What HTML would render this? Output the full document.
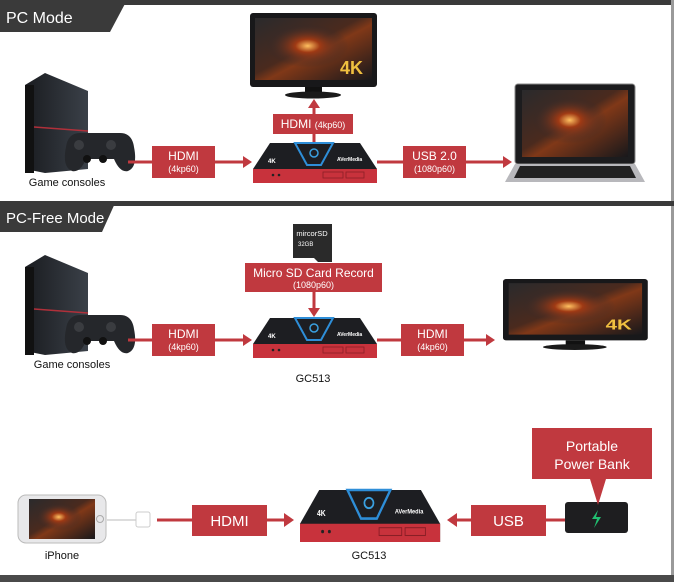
<!DOCTYPE html>
<html><head><meta charset="utf-8"><style>
html,body{margin:0;padding:0;background:#fff;}
svg{display:block;}
text{font-family:"Liberation Sans Narrow","Liberation Sans",sans-serif;}
</style></head><body>
<svg width="674" height="582" viewBox="0 0 674 582" xmlns="http://www.w3.org/2000/svg">
<defs>
<linearGradient id="scr" x1="0" y1="0" x2="1" y2="1">
<stop offset="0" stop-color="#2a2a2c"/><stop offset="0.45" stop-color="#4a2a1e"/><stop offset="0.55" stop-color="#803818"/><stop offset="1" stop-color="#18181b"/></linearGradient>
<radialGradient id="fire" cx="0.45" cy="0.45" r="0.35"><stop offset="0" stop-color="#ffc060"/><stop offset="0.3" stop-color="#a03a14"/><stop offset="1" stop-color="#2a2a2e" stop-opacity="0"/></radialGradient>
<linearGradient id="ps" x1="0" y1="0" x2="1" y2="0"><stop offset="0" stop-color="#1a1c20"/><stop offset="1" stop-color="#3a4048"/></linearGradient>
<g id="card">
<polygon points="17,0 107,0 124,26 124,40 0,40 0,26" fill="#1d1e22"/>
<polygon points="0,26 124,26 124,40 0,40" fill="#c8323c"/>
<polygon points="42,0 80,0 68,22 54,22" fill="none" stroke="#2e8ed8" stroke-width="2"/>
<circle cx="61" cy="10" r="4" fill="none" stroke="#3aa0e0" stroke-width="1.5"/>
<text x="15" y="20" font-size="6" fill="#fff" font-weight="bold">4K</text>
<text x="84" y="18" font-size="5" fill="#fff" font-weight="bold">AVerMedia</text>
<circle cx="20" cy="32" r="1.3" fill="#222"/><circle cx="26" cy="32" r="1.3" fill="#222"/>
<rect x="70" y="29" width="20" height="6" fill="none" stroke="#8a1e26" stroke-width="0.8"/>
<rect x="93" y="29" width="18" height="6" fill="none" stroke="#8a1e26" stroke-width="0.8"/>
</g>
<g id="ps4">
<polygon points="0,12 20,0 63,18 63,96 20,100 0,96" fill="url(#ps)"/>
<rect x="0" y="12" width="9" height="88" fill="#111"/>
<line x1="9" y1="54" x2="63" y2="58" stroke="#b0303a" stroke-width="1.5"/>
<path d="M45,60 h50 q12,0 14,14 q4,20 -6,24 q-8,2 -14,-12 h-28 q-6,14 -14,12 q-10,-4 -6,-24 q2,-14 14,-14z" fill="#25272b"/>
<circle cx="54" cy="72" r="5" fill="#3a3c40"/><circle cx="86" cy="72" r="5" fill="#3a3c40"/>
<circle cx="62" cy="86" r="4" fill="#111"/><circle cx="78" cy="86" r="4" fill="#111"/>
</g>
<g id="mon">
<rect x="0" y="0" width="127" height="74" rx="3" fill="#18181a"/>
<rect x="5" y="5" width="117" height="62" fill="url(#scr)"/>
<rect x="5" y="5" width="117" height="62" fill="url(#fire)"/>
<text x="90" y="61" font-size="18" font-weight="bold" fill="#f0c040">4K</text>
<rect x="55" y="74" width="17" height="6" fill="#111"/>
<ellipse cx="63" cy="82" rx="28" ry="3.5" fill="#1a1a1a"/>
</g>
</defs>

<rect x="0" y="0" width="674" height="5" fill="#3a3a3a"/>
<polygon points="0,0 127,0 110,32 0,32" fill="#3a3a3a"/>
<text x="6" y="23" font-size="16" fill="#fff">PC Mode</text>
<rect x="671" y="0" width="3" height="582" fill="#9a9a9a"/>
<rect x="0" y="201" width="674" height="5" fill="#3a3a3a"/>
<polygon points="0,201 116,201 102,232 0,232" fill="#3a3a3a"/>
<text x="6" y="223" font-size="15" fill="#fff">PC-Free Mode</text>
<rect x="0" y="575" width="674" height="7" fill="#4a4a4a"/>

<!-- Section 1 -->
<use href="#ps4" x="25" y="73"/>
<text x="67" y="186" font-size="11" fill="#111" text-anchor="middle">Game consoles</text>
<line x1="128" y1="162" x2="245" y2="162" stroke="#c0393f" stroke-width="3"/>
<polygon points="243,156 252,162 243,168" fill="#c0393f"/>
<rect x="152" y="146" width="63" height="32" fill="#c0393f"/>
<text x="183.5" y="160" font-size="12" fill="#fff" text-anchor="middle">HDMI</text>
<text x="183.5" y="172" font-size="9" fill="#fff" text-anchor="middle">(4kp60)</text>
<use href="#mon" x="250" y="13"/>
<line x1="314" y1="143" x2="314" y2="106" stroke="#c0393f" stroke-width="3"/>
<polygon points="308,108 314,99 320,108" fill="#c0393f"/>
<rect x="273" y="114" width="80" height="20" fill="#c0393f"/>
<text x="313" y="128" font-size="12" fill="#fff" text-anchor="middle">HDMI <tspan font-size="9">(4kp60)</tspan></text>
<use href="#card" x="253" y="143"/>
<line x1="377" y1="162" x2="505" y2="162" stroke="#c0393f" stroke-width="3"/>
<polygon points="503,156 512,162 503,168" fill="#c0393f"/>
<rect x="403" y="146" width="63" height="32" fill="#c0393f"/>
<text x="434.5" y="160" font-size="12" fill="#fff" text-anchor="middle">USB 2.0</text>
<text x="434.5" y="172" font-size="9" fill="#fff" text-anchor="middle">(1080p60)</text>
<rect x="515" y="84" width="120" height="80" rx="3" fill="#1c1c1e" stroke="#888" stroke-width="1"/>
<rect x="522" y="90" width="106" height="67" fill="url(#scr)"/>
<rect x="522" y="90" width="106" height="67" fill="url(#fire)"/>
<polygon points="515,164 635,164 645,182 505,182" fill="#b8b8bc"/>
<polygon points="520,166 630,166 636,178 514,178" fill="#222"/>

<!-- Section 2 -->
<use href="#ps4" x="25" y="255"/>
<text x="72" y="368" font-size="11" fill="#111" text-anchor="middle">Game consoles</text>
<line x1="128" y1="340" x2="245" y2="340" stroke="#c0393f" stroke-width="3"/>
<polygon points="243,334 252,340 243,346" fill="#c0393f"/>
<rect x="152" y="324" width="63" height="32" fill="#c0393f"/>
<text x="183.5" y="338" font-size="12" fill="#fff" text-anchor="middle">HDMI</text>
<text x="183.5" y="350" font-size="9" fill="#fff" text-anchor="middle">(4kp60)</text>
<polygon points="293,224 332,224 332,262 318,262 314,258 293,258" fill="#2a2a2a"/>
<text x="312" y="236" font-size="7.5" fill="#fff" text-anchor="middle">mircorSD</text>
<text x="298" y="246" font-size="6" fill="#fff">32GB</text>
<rect x="245" y="263" width="137" height="29" fill="#c0393f"/>
<text x="313.5" y="277" font-size="12" fill="#fff" text-anchor="middle">Micro SD Card Record</text>
<text x="313.5" y="288" font-size="9" fill="#fff" text-anchor="middle">(1080p60)</text>
<line x1="314" y1="292" x2="314" y2="310" stroke="#c0393f" stroke-width="3"/>
<polygon points="308,308 314,317 320,308" fill="#c0393f"/>
<use href="#card" x="253" y="318"/>
<text x="313" y="382" font-size="11" fill="#111" text-anchor="middle">GC513</text>
<line x1="377" y1="340" x2="488" y2="340" stroke="#c0393f" stroke-width="3"/>
<polygon points="486,334 495,340 486,346" fill="#c0393f"/>
<rect x="401" y="324" width="63" height="32" fill="#c0393f"/>
<text x="432.5" y="338" font-size="12" fill="#fff" text-anchor="middle">HDMI</text>
<text x="432.5" y="350" font-size="9" fill="#fff" text-anchor="middle">(4kp60)</text>
<g transform="translate(503,279) scale(1.14,0.83)"><use href="#mon"/></g>

<!-- Section 3 -->
<rect x="18" y="495" width="88" height="48" rx="8" fill="#e8e8ea" stroke="#bbb"/>
<rect x="29" y="499" width="66" height="40" fill="url(#scr)"/>
<rect x="29" y="499" width="66" height="40" fill="url(#fire)"/>
<circle cx="100" cy="519" r="3.5" fill="none" stroke="#aaa"/>
<line x1="106" y1="520" x2="136" y2="520" stroke="#ddd" stroke-width="2"/>
<rect x="136" y="512" width="14" height="15" rx="2" fill="#fff" stroke="#ccc"/>
<text x="62" y="559" font-size="11" fill="#111" text-anchor="middle">iPhone</text>
<line x1="157" y1="520" x2="288" y2="520" stroke="#c0393f" stroke-width="3"/>
<polygon points="284,513 294,520 284,527" fill="#c0393f"/>
<rect x="192" y="505" width="75" height="31" fill="#c0393f"/>
<text x="229.5" y="526" font-size="15" fill="#fff" text-anchor="middle">HDMI</text>
<g transform="translate(300,490) scale(1.13,1.3)"><use href="#card"/></g>
<text x="369" y="559" font-size="11" fill="#111" text-anchor="middle">GC513</text>
<line x1="453" y1="520" x2="578" y2="520" stroke="#c0393f" stroke-width="3"/>
<polygon points="457,513 447,520 457,527" fill="#c0393f"/>
<rect x="471" y="505" width="75" height="31" fill="#c0393f"/>
<text x="508.5" y="526" font-size="15" fill="#fff" text-anchor="middle">USB</text>
<rect x="565" y="502" width="63" height="31" rx="3" fill="#1e1e20"/>
<polygon points="598,510 592,519 597,519 594,528 601,517 596,517" fill="#20c070"/>
<polygon points="532,428 652,428 652,479 606,479 598,505 590,479 532,479" fill="#c0393f"/>
<text x="592" y="451" font-size="14" fill="#fff" text-anchor="middle">Portable</text>
<text x="592" y="469" font-size="14" fill="#fff" text-anchor="middle">Power Bank</text>
</svg>
</body></html>
